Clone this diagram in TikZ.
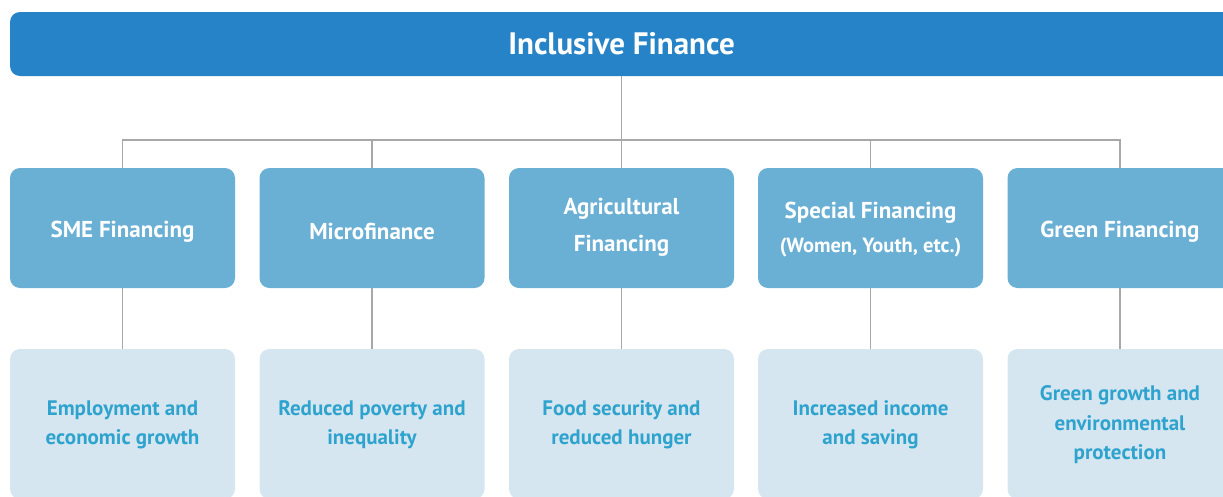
\documentclass[tikz,border=0pt]{standalone}
\usepackage{fontspec}
\setmainfont{PT Sans}
\definecolor{barblue}{HTML}{2783C7}
\definecolor{midblue}{HTML}{6AAFD4}
\definecolor{paleblue}{HTML}{D6E6F1}
\definecolor{tealtext}{HTML}{2EA3CE}
\definecolor{linkgray}{HTML}{A8A8A8}
\begin{document}
\begin{tikzpicture}[x=1pt,y=-1pt,
  % a tall strut on a one-line label lowers it a little inside its box
  lowerby/.style={execute at begin node={\rule{0pt}{#1}}},
  titlebar/.style={fill=barblue, rounded corners=10pt, minimum width=1223pt, minimum height=64pt,
    inner sep=0pt, text=white, font=\bfseries\fontsize{31}{36}\selectfont},
  typebox/.style={fill=midblue, rounded corners=10pt, minimum width=225pt, minimum height=120pt,
    inner sep=0pt, text=white, align=center, font=\bfseries\fontsize{23}{37}\selectfont},
  goalbox/.style={fill=paleblue, rounded corners=10pt, minimum width=225pt, minimum height=150pt,
    inner sep=0pt, text=tealtext, align=center, font=\bfseries\fontsize{21}{29.5}\selectfont,
    text depth=3pt},
  link/.style={draw=linkgray, line width=1.3pt}]
\useasboundingbox (0,0) rectangle (1223,496);
\clip (0,0) rectangle (1223,496);

% top bar
\node[titlebar] (title) at (621.5,44) {Inclusive Finance};

% financing types
\node[typebox, lowerby=23pt] (m1) at (122.5,228) {SME Financing};
\node[typebox, lowerby=23pt] (m2) at (372,228) {Microfinance};
\node[typebox, text depth=6pt] (m3) at (621.5,228) {Agricultural\\Financing};
\node[typebox, text depth=2pt] (m4) at (870.5,228) {Special Financing\\[-3pt]{\fontsize{20.5}{22}\selectfont (Women, Youth, etc.)}};
\node[typebox, lowerby=23pt] (m5) at (1120,228) {Green Financing};

% outcomes
\node[goalbox] (b1) at (122.5,424) {Employment and\\economic growth};
\node[goalbox] (b2) at (372,424) {Reduced poverty and\\inequality};
\node[goalbox] (b3) at (621.5,424) {Food security and\\reduced hunger};
\node[goalbox] (b4) at (870.5,424) {Increased income\\and saving};
\node[goalbox] (b5) at (1120,424) {Green growth and\\environmental\\protection};

% connectors
\coordinate (bus) at (621.5,140);
\draw[link] (title.south) -- (bus);
\draw[link] (m1.north) |- (bus) -| (m5.north);
\draw[link] (m2.north) -- (m2.north |- bus);
\draw[link] (m3.north) -- (bus);
\draw[link] (m4.north) -- (m4.north |- bus);
\foreach \i in {1,...,5} {\draw[link] (m\i.south) -- (b\i.north);}
\end{tikzpicture}
\end{document}
